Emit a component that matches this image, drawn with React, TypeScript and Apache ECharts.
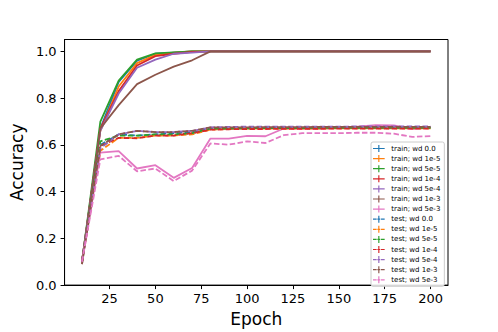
import React, { useEffect, useRef } from "react";
import * as echarts from "echarts";

const epochs = [10, 20, 30, 40, 50, 60, 70, 80, 90, 100, 110, 120, 130, 140, 150, 160, 170, 180, 190, 200];
const wdLabels = ["0.0", "1e-5", "5e-5", "1e-4", "5e-4", "1e-3", "5e-3"];
const colors = ["#1f77b4", "#ff7f0e", "#2ca02c", "#d62728", "#9467bd", "#8c564b", "#e377c2"];

const train00 = [0.1, 0.67, 0.87, 0.96, 0.99, 0.995, 1.0, 1.0, 1.0, 1.0, 1.0, 1.0, 1.0, 1.0, 1.0, 1.0, 1.0, 1.0, 1.0, 1.0];
const train1e5 = [0.1, 0.66, 0.85, 0.95, 0.985, 0.995, 1.0, 1.0, 1.0, 1.0, 1.0, 1.0, 1.0, 1.0, 1.0, 1.0, 1.0, 1.0, 1.0, 1.0];
const train5e5 = [0.1, 0.7, 0.875, 0.965, 0.992, 0.996, 1.0, 1.0, 1.0, 1.0, 1.0, 1.0, 1.0, 1.0, 1.0, 1.0, 1.0, 1.0, 1.0, 1.0];
const train1e4 = [0.1, 0.67, 0.83, 0.94, 0.98, 0.99, 0.998, 1.0, 1.0, 1.0, 1.0, 1.0, 1.0, 1.0, 1.0, 1.0, 1.0, 1.0, 1.0, 1.0];
const train5e4 = [0.1, 0.66, 0.82, 0.93, 0.965, 0.99, 0.995, 1.0, 1.0, 1.0, 1.0, 1.0, 1.0, 1.0, 1.0, 1.0, 1.0, 1.0, 1.0, 1.0];
const train1e3 = [0.09, 0.67, 0.77, 0.86, 0.9, 0.935, 0.962, 1.0, 1.0, 1.0, 1.0, 1.0, 1.0, 1.0, 1.0, 1.0, 1.0, 1.0, 1.0, 1.0];
const train5e3 = [0.1, 0.567, 0.573, 0.499, 0.513, 0.459, 0.501, 0.627, 0.627, 0.639, 0.637, 0.67, 0.67, 0.67, 0.672, 0.678, 0.685, 0.683, 0.668, 0.675];

const test00 = [0.1, 0.6, 0.645, 0.64, 0.645, 0.65, 0.655, 0.67, 0.67, 0.672, 0.672, 0.673, 0.673, 0.674, 0.674, 0.674, 0.675, 0.675, 0.675, 0.675];
const test1e5 = [0.1, 0.575, 0.63, 0.63, 0.64, 0.64, 0.645, 0.665, 0.668, 0.67, 0.67, 0.67, 0.67, 0.67, 0.671, 0.671, 0.671, 0.671, 0.671, 0.671];
const test5e5 = [0.1, 0.615, 0.64, 0.64, 0.645, 0.645, 0.65, 0.67, 0.67, 0.671, 0.672, 0.672, 0.672, 0.673, 0.673, 0.673, 0.673, 0.673, 0.673, 0.673];
const test1e4 = [0.1, 0.595, 0.63, 0.628, 0.64, 0.64, 0.65, 0.665, 0.667, 0.668, 0.668, 0.669, 0.669, 0.669, 0.67, 0.67, 0.67, 0.67, 0.67, 0.67];
const test5e4 = [0.1, 0.585, 0.645, 0.66, 0.655, 0.655, 0.66, 0.675, 0.677, 0.678, 0.678, 0.678, 0.678, 0.678, 0.678, 0.679, 0.679, 0.679, 0.679, 0.679];
const test1e3 = [0.09, 0.595, 0.645, 0.66, 0.655, 0.655, 0.66, 0.675, 0.675, 0.675, 0.676, 0.676, 0.676, 0.677, 0.677, 0.677, 0.677, 0.677, 0.677, 0.677];
const test5e3 = [0.1, 0.538, 0.553, 0.487, 0.499, 0.445, 0.49, 0.606, 0.601, 0.615, 0.608, 0.642, 0.65, 0.65, 0.65, 0.652, 0.652, 0.648, 0.634, 0.638];

const trainSeries = [train00, train1e5, train5e5, train1e4, train5e4, train1e3, train5e3];
const testSeries = [test00, test1e5, test5e5, test1e4, test5e4, test1e3, test5e3];

const xTicks = [25, 50, 75, 100, 125, 150, 175, 200];
const yTicks = [0, 0.2, 0.4, 0.6, 0.8, 1.0];

const solidIcon = "path://M0,4H16V5.6H0Z M7.2,0H8.8V9.6H7.2Z";
const dashedIcon = "path://M0,4H5V5.6H0Z M6,4H10V5.6H6Z M11,4H16V5.6H11Z M7.2,0H8.8V9.6H7.2Z";

export default function App() {
  const ref = useRef<HTMLDivElement>(null);
  useEffect(() => {
    if (!ref.current) return;
    const chart = echarts.init(ref.current, null, { renderer: "svg" });
    const font = "DejaVu Sans";
    const series: any[] = [];
    const legendData: any[] = [];
    trainSeries.forEach((vals, i) => {
      const name = `train; wd ${wdLabels[i]}`;
      series.push({
        name,
        type: "line",
        data: epochs.map((e, k) => [e, vals[k]]),
        showSymbol: false,
        symbol: "none",
        color: colors[i],
        lineStyle: { width: 1.8, color: colors[i] },
        z: 2,
      });
      legendData.push({ name, icon: solidIcon });
    });
    testSeries.forEach((vals, i) => {
      const name = `test; wd ${wdLabels[i]}`;
      series.push({
        name,
        type: "line",
        data: epochs.map((e, k) => [e, vals[k]]),
        showSymbol: false,
        symbol: "none",
        color: colors[i],
        lineStyle: { width: 1.8, color: colors[i], type: [5.5, 2.4] },
        z: 3,
      });
      legendData.push({ name, icon: dashedIcon });
    });
    chart.setOption({
      animation: false,
      textStyle: { fontFamily: font },
      grid: { left: 62, right: 50, top: 39.5, bottom: 42, show: true, borderColor: "#000", borderWidth: 1, backgroundColor: "transparent" },
      xAxis: {
        type: "value",
        min: 0.5,
        max: 209.5,
        name: "Epoch",
        nameLocation: "middle",
        nameGap: 23,
        nameTextStyle: { fontSize: 17, color: "#000", fontFamily: font },
        axisLine: { show: true, lineStyle: { color: "#000", width: 1 } },
        axisTick: { show: true, length: 4, customValues: xTicks, lineStyle: { color: "#000" } },
        axisLabel: { customValues: xTicks, fontSize: 13, color: "#000", margin: 7, fontFamily: font },
        splitLine: { show: false },
      },
      yAxis: {
        type: "value",
        min: 0,
        max: 1.051,
        name: "Accuracy",
        nameLocation: "middle",
        nameGap: 35,
        nameTextStyle: { fontSize: 17, color: "#000", fontFamily: font },
        axisLine: { show: true, lineStyle: { color: "#000", width: 1 } },
        axisTick: { show: true, length: 4, customValues: yTicks, lineStyle: { color: "#000" } },
        axisLabel: { customValues: yTicks, fontSize: 13, color: "#000", margin: 8, fontFamily: font, formatter: (v: number) => v.toFixed(1) },
        splitLine: { show: false },
      },
      legend: {
        data: legendData,
        orient: "vertical",
        left: 371,
        top: 142,
        padding: [3, 4, 3, 2],
        itemWidth: 15,
        itemHeight: 7,
        itemGap: 3.1,
        backgroundColor: "rgba(255,255,255,0.85)",
        borderColor: "#cccccc",
        borderWidth: 1,
        borderRadius: 2,
        textStyle: { fontSize: 7, color: "#000", fontFamily: font, lineHeight: 7 },
        itemStyle: { borderWidth: 0 },
      },
      series,
    });
    return () => chart.dispose();
  }, []);
  return <div ref={ref} style={{ width: 498, height: 332, position: "absolute", left: 0, top: 0 }} />;
}
